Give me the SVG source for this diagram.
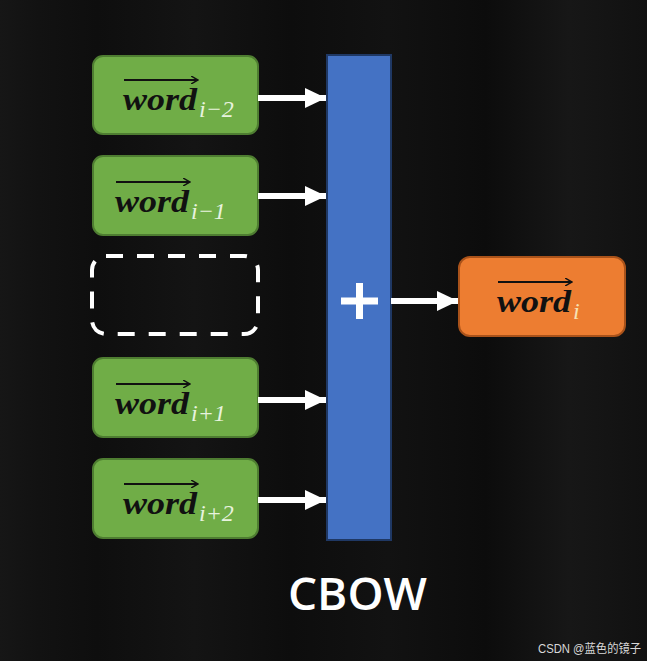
<svg xmlns="http://www.w3.org/2000/svg" width="647" height="661" viewBox="0 0 647 661">
<defs>
<linearGradient id="bg" x1="0" y1="0" x2="1" y2="0">
<stop offset="0" stop-color="#161616"/>
<stop offset="0.06" stop-color="#121212"/>
<stop offset="0.15" stop-color="#0e0e0e"/>
<stop offset="0.3" stop-color="#141414"/>
<stop offset="0.45" stop-color="#0d0d0d"/>
<stop offset="0.6" stop-color="#121212"/>
<stop offset="0.75" stop-color="#0c0c0c"/>
<stop offset="0.88" stop-color="#171717"/>
<stop offset="1" stop-color="#111111"/>
</linearGradient>
<marker id="ah" viewBox="0 0 21 20" refX="21" refY="10" markerWidth="21" markerHeight="20" markerUnits="userSpaceOnUse" orient="auto">
<path d="M0,0 L21,10 L0,20 Z" fill="#ffffff"/>
</marker>
<marker id="ov" viewBox="0 0 8 8" refX="7" refY="4" markerWidth="8" markerHeight="8" markerUnits="userSpaceOnUse" orient="auto">
<path d="M0,0 L7,4 L0,8" fill="none" stroke="#111" stroke-width="1.5"/>
</marker>
</defs>
<style>
.g{fill:#70ad47;stroke:#4e7d31;stroke-width:2}
.o{fill:#ed7d31;stroke:#a9521a;stroke-width:2}
.w{font-family:"Liberation Serif",serif;font-style:italic;font-weight:bold;font-size:32px;fill:#111}
.s{font-family:"Liberation Serif",serif;font-style:italic;font-size:24px;fill:#e8f3df}
.ol{stroke:#111;stroke-width:2;fill:none}
.ar{stroke:#fff;stroke-width:6;fill:none}
</style>
<rect width="647" height="661" fill="url(#bg)"/>
<g id="w_im2">
<rect class="g" x="93" y="56" width="165" height="78" rx="10"/>
<line class="ol" x1="124" y1="80" x2="198" y2="80" marker-end="url(#ov)"/>
<text class="w" x="123" y="110" textLength="74" lengthAdjust="spacingAndGlyphs">word</text>
<text class="s" x="199" y="117">i−2</text>
</g>
<g id="w_im1">
<rect class="g" x="93" y="156" width="165" height="79" rx="10"/>
<line class="ol" x1="116" y1="182" x2="190" y2="182" marker-end="url(#ov)"/>
<text class="w" x="115" y="212" textLength="74" lengthAdjust="spacingAndGlyphs">word</text>
<text class="s" x="191" y="219">i−1</text>
</g>
<g id="missing">
<rect x="92" y="256" width="166" height="78" rx="14" fill="none" stroke="#fff" stroke-width="4" stroke-dasharray="17,14"/>
</g>
<g id="w_ip1">
<rect class="g" x="93" y="358" width="165" height="79" rx="10"/>
<line class="ol" x1="116" y1="384" x2="190" y2="384" marker-end="url(#ov)"/>
<text class="w" x="115" y="414" textLength="74" lengthAdjust="spacingAndGlyphs">word</text>
<text class="s" x="191" y="421">i+1</text>
</g>
<g id="w_ip2">
<rect class="g" x="93" y="459" width="165" height="79" rx="10"/>
<line class="ol" x1="124" y1="484" x2="198" y2="484" marker-end="url(#ov)"/>
<text class="w" x="123" y="514" textLength="74" lengthAdjust="spacingAndGlyphs">word</text>
<text class="s" x="199" y="521">i+2</text>
</g>
<g id="sum">
<rect x="327" y="55" width="64" height="485" fill="#4472c4" stroke="#1f3864" stroke-width="2"/>
<path d="M341,301 H378 M359.5,283 V319" stroke="#fff" stroke-width="7" fill="none"/>
</g>
<g id="w_i">
<rect class="o" x="459" y="257" width="166" height="79" rx="11"/>
<line class="ol" x1="498" y1="282" x2="572" y2="282" marker-end="url(#ov)"/>
<text class="w" x="497" y="312" textLength="74" lengthAdjust="spacingAndGlyphs">word</text>
<text class="s" x="573" y="319" style="fill:#f7e2b5">i</text>
</g>
<g id="connectors">
<line class="ar" x1="258" y1="98" x2="326" y2="98" marker-end="url(#ah)"/>
<line class="ar" x1="258" y1="196" x2="326" y2="196" marker-end="url(#ah)"/>
<line class="ar" x1="258" y1="400" x2="326" y2="400" marker-end="url(#ah)"/>
<line class="ar" x1="258" y1="500" x2="326" y2="500" marker-end="url(#ah)"/>
<line class="ar" x1="391" y1="301" x2="458" y2="301" marker-end="url(#ah)"/>
</g>
<text x="288" y="610" font-family="'Open Sans','Liberation Sans',sans-serif" font-weight="600" font-size="45" fill="#fff" textLength="139" lengthAdjust="spacingAndGlyphs">CBOW</text>
<text x="538" y="653" font-family="'Liberation Sans','Noto Sans CJK SC',sans-serif" font-size="12" fill="#d8d8d8" textLength="103" lengthAdjust="spacingAndGlyphs">CSDN @蓝色的镜子</text>
</svg>
